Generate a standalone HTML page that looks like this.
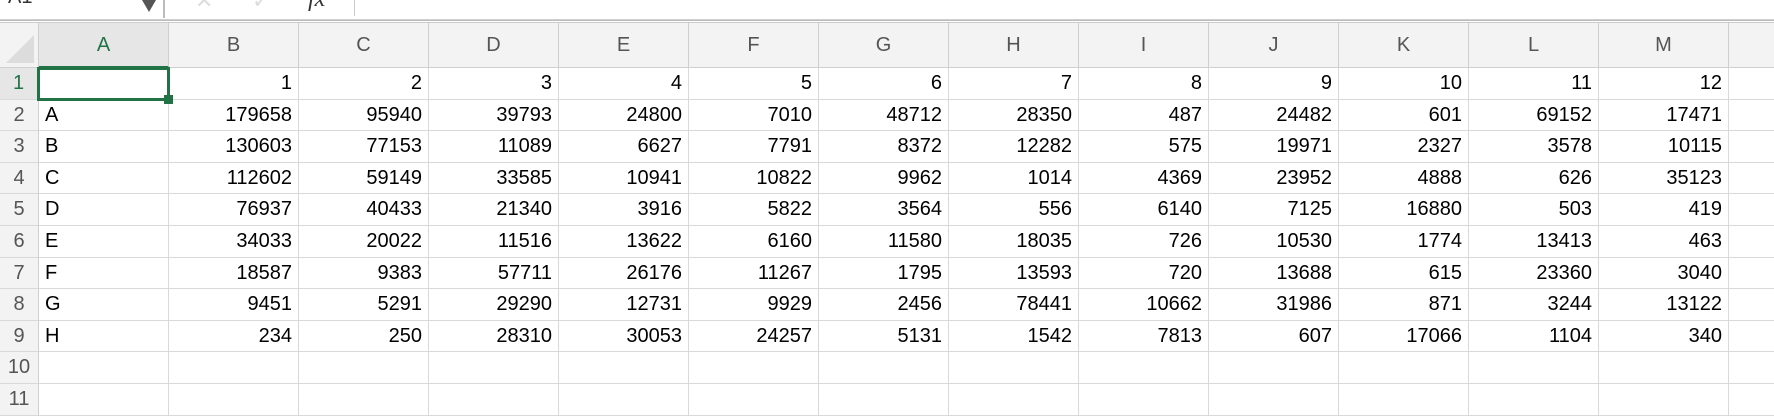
<!DOCTYPE html>
<html><head><meta charset="utf-8">
<style>
html,body{margin:0;padding:0;width:1774px;height:405px;overflow:hidden;background:#fff;font-family:"Liberation Sans",Arial,sans-serif;}
.abs{position:absolute;box-sizing:border-box;}
.cell{position:absolute;box-sizing:border-box;border-right:1px solid #d9d9d9;border-bottom:1px solid #d9d9d9;font-size:20px;color:#000;line-height:31px;padding:0 6px;white-space:nowrap;overflow:hidden;}
.hdr{background:#f3f3f3;color:#555;text-align:center;border-right:1px solid #cfcfcf;border-bottom:1px solid #cfcfcf;}
.rh{background:#f3f3f3;color:#555;text-align:center;border-right:1px solid #cfcfcf;border-bottom:1px solid #d9d9d9;padding:0;}
</style></head>
<body>
<div class="abs" style="left:0;top:0;width:1774px;height:20px;background:#fff;border-bottom:1px solid #d0d0d0;"></div>
<div class="abs" style="left:0;top:-14px;width:160px;height:32px;font-size:20px;padding-left:8px;color:#333;">A1</div>
<div class="abs" style="left:142px;top:0;width:0;height:0;border-left:7px solid transparent;border-right:7px solid transparent;border-top:12px solid #555;"></div>
<div class="abs" style="left:163px;top:0;width:2px;height:18px;background:#bbb;"></div>
<div class="abs" style="left:195px;top:-12px;font-size:22px;color:#ddd;">✕</div>
<div class="abs" style="left:252px;top:-12px;font-size:22px;color:#ddd;">✓</div>
<div class="abs" style="left:308px;top:-14px;font-size:24px;font-style:italic;font-family:'Liberation Serif',serif;color:#333;">fx</div>
<div class="abs" style="left:354px;top:0;width:1px;height:16px;background:#ccc;"></div>
<div class="abs" style="left:0;top:20px;width:1774px;height:3px;border-top:1px solid #bbb;border-bottom:1px solid #ccc;"></div>
<div id="grid"></div>
<script>
const colLetters=["A","B","C","D","E","F","G","H","I","J","K","L","M"];
const headerRow=["",1,2,3,4,5,6,7,8,9,10,11,12];
const rowsData=[
["A",179658,95940,39793,24800,7010,48712,28350,487,24482,601,69152,17471],
["B",130603,77153,11089,6627,7791,8372,12282,575,19971,2327,3578,10115],
["C",112602,59149,33585,10941,10822,9962,1014,4369,23952,4888,626,35123],
["D",76937,40433,21340,3916,5822,3564,556,6140,7125,16880,503,419],
["E",34033,20022,11516,13622,6160,11580,18035,726,10530,1774,13413,463],
["F",18587,9383,57711,26176,11267,1795,13593,720,13688,615,23360,3040],
["G",9451,5291,29290,12731,9929,2456,78441,10662,31986,871,3244,13122],
["H",234,250,28310,30053,24257,5131,1542,7813,607,17066,1104,340]
];
const g=document.getElementById('grid');
const X0=39,CW=130,Y0=23,HH=45,RH=31.6;
function mk(cls,l,t,w,h,txt,name,inter){const d=document.createElement('div');d.className=cls;d.style.left=l+'px';d.style.top=t+'px';d.style.width=w+'px';d.style.height=h+'px';if(txt!==undefined)d.textContent=txt;


g.appendChild(d);return d;}
// corner
const c=mk('cell hdr',0,Y0,X0,HH,'','select-all-corner','true');
c.innerHTML='<div style="position:absolute;right:4px;bottom:4px;width:0;height:0;border-left:28px solid transparent;border-bottom:28px solid #dcdcdc;"></div>';
const totalCols=14;
for(let i=0;i<totalCols;i++){const L=i<13?colLetters[i]:'';const d=mk('cell hdr',X0+i*CW,Y0,CW,HH,L,'column-header-'+(L||'n').toLowerCase(),'true');d.style.lineHeight=HH+'px';if(i===0){d.style.color='#217346';d.style.borderBottom='2px solid #217346';d.style.background='#e6e6e6';}}
const allRows=[headerRow].concat(rowsData);
for(let r=0;r<11;r++){const top=Y0+HH+r*RH;
const rh=mk('cell rh',0,top,X0,RH,String(r+1),'row-header-'+(r+1),'true');
if(r===0){rh.style.color='#217346';rh.style.background='#e6e6e6';rh.style.borderRight='2px solid #217346';}
for(let i=0;i<totalCols;i++){const v=(allRows[r]&&i<13)?allRows[r][i]:'';const d=mk('cell',X0+i*CW,top,CW,RH,String(v),'cell-'+(i<13?colLetters[i].toLowerCase():'n')+(r+1),'true');
if(i>0)d.style.textAlign='right';}}
// selection
mk('abs',X0-2,Y0+HH-1,CW+3,RH+2,undefined,'selected-cell-border','false').style.border='3px solid #217346';
mk('abs',X0+CW-5,Y0+HH+RH-5,9,9,undefined,'fill-handle','true').style.background='#217346';
</script>
</body></html>
